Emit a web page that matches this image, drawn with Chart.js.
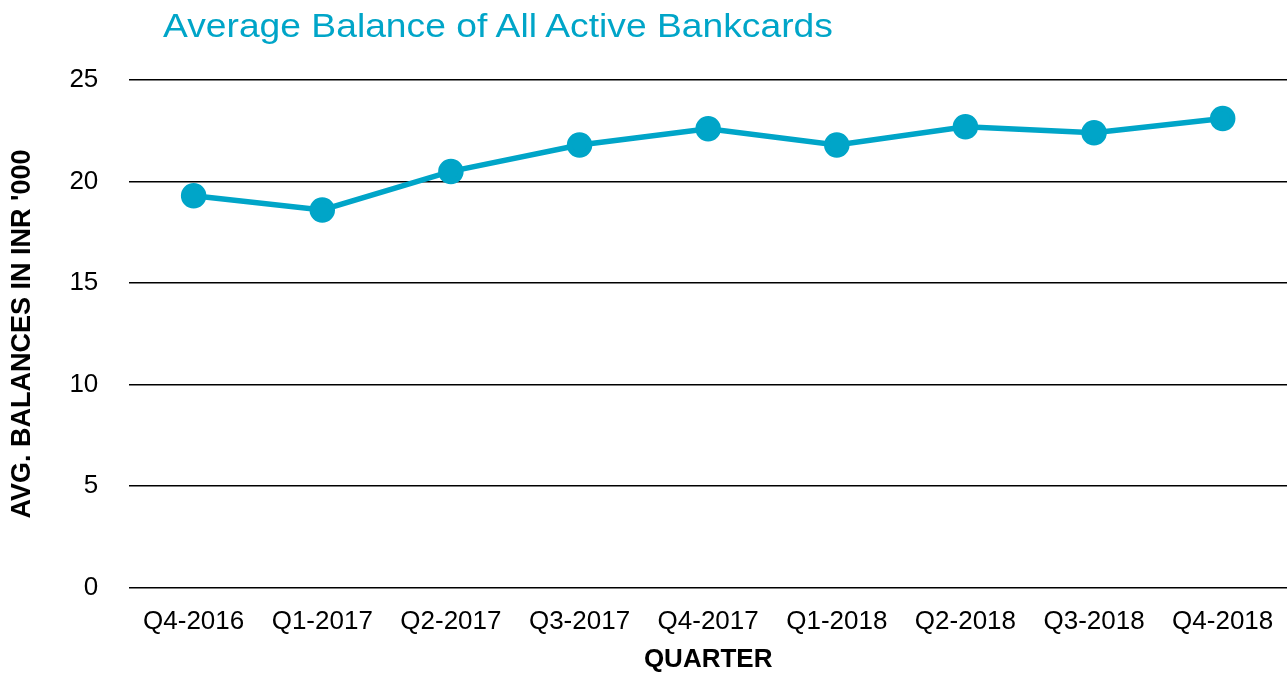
<!DOCTYPE html>
<html>
<head>
<meta charset="utf-8">
<script src="https://cdn.jsdelivr.net/npm/chart.js@4"></script>
<style>
  html, body { margin: 0; padding: 0; background: #ffffff; }
  #wrap { position: relative; width: 1287px; height: 673px; overflow: hidden; }
  #title {
    position: absolute; left: 163px; top: 6px;
    font-family: "Liberation Sans", Arial, sans-serif;
    font-size: 34px; color: #00a5c8; white-space: nowrap;
    transform: scaleX(1.095); transform-origin: left top;
  }
</style>
</head>
<body>
<div id="wrap">
  <div id="title">Average Balance of All Active Bankcards</div>
  <canvas id="balanceChart" width="1287" height="673"></canvas>
</div>
<script>
// Quarters on the x axis
const quarters = ['Q4-2016', 'Q1-2017', 'Q2-2017', 'Q3-2017', 'Q4-2017',
                  'Q1-2018', 'Q2-2018', 'Q3-2018', 'Q4-2018'];
// Average balance, INR '000
const avgBalance = [19.3, 18.6, 20.5, 21.8, 22.6, 21.8, 22.7, 22.4, 23.1];
// Y axis ticks
const yTicks = [0, 5, 10, 15, 20, 25];

const FONT = '"Liberation Sans", Arial, sans-serif';
const LINE_COLOR = '#00a5c8';

function initBalanceChart() {
    const ctx = document.getElementById('balanceChart');
    if (!ctx) return;

    return new Chart(ctx, {
        type: 'line',
        data: {
            labels: quarters,
            datasets: [{
                label: 'Average Balance',
                data: avgBalance,
                borderColor: LINE_COLOR,
                backgroundColor: LINE_COLOR,
                pointBackgroundColor: LINE_COLOR,
                pointBorderColor: LINE_COLOR,
                borderWidth: 5.5,
                pointRadius: 10,
                pointHoverRadius: 10,
                tension: 0
            }]
        },
        options: {
            responsive: false,
            animation: false,
            layout: {
                autoPadding: false,
                padding: { top: 80, right: 0, bottom: 0, left: 3 }
            },
            plugins: {
                legend: { display: false },
                title: { display: false },
                tooltip: { enabled: false }
            },
            scales: {
                x: {
                    offset: true,
                    // let the plot run to the right edge like the original
                    afterFit: scale => {
                        scale.paddingRight = 0;
                    },
                    grid: { display: false },
                    border: { display: false },
                    ticks: {
                        color: '#000000',
                        font: { family: FONT, size: 26 },
                        padding: 10,
                        maxRotation: 0,
                        autoSkip: false
                    },
                    title: {
                        display: true,
                        text: 'QUARTER',
                        color: '#000000',
                        font: { family: FONT, size: 26, weight: 'bold', lineHeight: 1.0 },
                        padding: { top: 0, bottom: 0 }
                    }
                },
                y: {
                    min: yTicks[0],
                    max: yTicks[yTicks.length - 1],
                    afterBuildTicks: axis => {
                        axis.ticks = yTicks.map(v => ({ value: v }));
                    },
                    grid: {
                        color: '#000000',
                        lineWidth: 1.5,
                        drawTicks: false
                    },
                    border: { display: false },
                    ticks: {
                        color: '#000000',
                        font: { family: FONT, size: 26 },
                        padding: 31
                    },
                    title: {
                        display: true,
                        text: "AVG. BALANCES IN INR '000",
                        color: '#000000',
                        font: { family: FONT, size: 27, weight: 'bold' },
                        padding: { top: 3, bottom: 0 }
                    }
                }
            }
        }
    });
}

initBalanceChart();
</script>
</body>
</html>
